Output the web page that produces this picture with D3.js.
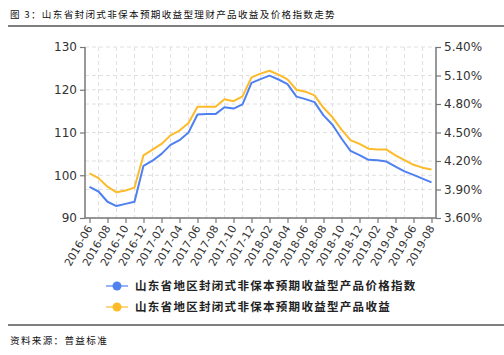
<!DOCTYPE html>
<html><head><meta charset="utf-8">
<script src="https://cdn.jsdelivr.net/npm/d3@7/dist/d3.min.js"></script>
<style>
body{margin:0;background:#fff;}
svg{display:block;}
</style></head>
<body><svg id="c" width="504" height="355"></svg>
<script>
const months = [
"2016-06","2016-07","2016-08","2016-09","2016-10","2016-11","2016-12",
"2017-01","2017-02","2017-03","2017-04","2017-05","2017-06","2017-07","2017-08","2017-09","2017-10","2017-11","2017-12",
"2018-01","2018-02","2018-03","2018-04","2018-05","2018-06","2018-07","2018-08","2018-09","2018-10","2018-11","2018-12",
"2019-01","2019-02","2019-03","2019-04","2019-05","2019-06","2019-07","2019-08"];
const priceIndex = [97.3,96.2,93.8,92.8,93.3,93.8,102.2,103.4,105.0,107.1,108.2,110.0,114.2,114.3,114.3,115.9,115.6,116.6,121.6,
122.5,123.3,122.4,121.3,118.4,117.8,117.1,114.0,111.8,108.6,105.7,104.7,103.6,103.5,103.2,102.0,100.9,100.1,99.2,98.35];
const yieldPct = [4.07,4.02,3.93,3.87,3.89,3.92,4.26,4.32,4.38,4.47,4.52,4.60,4.77,4.77,4.77,4.85,4.83,4.88,5.08,
5.12,5.15,5.11,5.06,4.95,4.93,4.89,4.76,4.66,4.53,4.42,4.38,4.33,4.32,4.32,4.26,4.21,4.16,4.13,4.11];
const leftTicks = [90,100,110,120,130];
const rightTicks = [3.6,3.9,4.2,4.5,4.8,5.1,5.4];
const seriesNames = ["山东省地区封闭式非保本预期收益型产品价格指数","山东省地区封闭式非保本预期收益型产品收益"];
const title = "图 3：山东省封闭式非保本预期收益型理财产品收益及价格指数走势";
const source = "资料来源：普益标准";

const C_BLUE = "#4f80f0", C_ORANGE = "#fdbb2a";
const L = 85, R = 436, T = 47, B = 218;
const svg = d3.select("#c");
const cjk = "'Noto Sans CJK SC', sans-serif";
const latin = "'DejaVu Sans', 'Noto Sans', sans-serif";

const x = d3.scalePoint().domain(months).range([L, R]).padding(0.5);
const yL = d3.scaleLinear().domain([90,130]).range([B, T]);
const yR = d3.scaleLinear().domain([3.6,5.4]).range([B, T]);

// title
svg.append("text").attr("x",10).attr("y",18).attr("font-family",cjk).attr("font-size",9.6)
  .attr("letter-spacing",1.3).attr("fill","#111").text(title);
svg.append("line").attr("x1",8).attr("x2",504).attr("y1",26).attr("y2",26).attr("stroke","#000").attr("stroke-width",1.2);

// grid
const g = svg.append("g");
const hset = new Set();
leftTicks.forEach(v=>hset.add(Math.round(yL(v)*10)/10));
rightTicks.forEach(v=>hset.add(Math.round(yR(v)*10)/10));
[...hset].forEach(yy=>{
  g.append("line").attr("x1",L).attr("x2",R).attr("y1",yy).attr("y2",yy)
   .attr("stroke","#e0e0e0").attr("stroke-dasharray","4,3").attr("stroke-width",1);
});
months.forEach((m,i)=>{
  if(i%2===1){
    g.append("line").attr("x1",x(m)).attr("x2",x(m)).attr("y1",T).attr("y2",B)
     .attr("stroke","#e0e0e0").attr("stroke-dasharray","4,3").attr("stroke-width",1);
  }
});

// axes
const axL = d3.axisLeft(yL).tickValues(leftTicks).tickSize(5).tickPadding(3).tickFormat(d3.format("d"));
const axR = d3.axisRight(yR).tickValues(rightTicks).tickSize(5).tickPadding(3).tickFormat(d=>d.toFixed(2)+"%");
const axB = d3.axisBottom(x).tickValues(months.filter((m,i)=>i%2===0)).tickSize(5).tickSizeOuter(0);
function styleAxis(sel){
  sel.select(".domain").attr("stroke","#777").attr("stroke-width",1.5);
  sel.selectAll(".tick line").attr("stroke","#777").attr("stroke-width",1.2);
  sel.selectAll("text").attr("fill","#333").attr("font-family",latin).attr("font-size",12);
}
const gl = svg.append("g").attr("transform",`translate(${L},0)`).call(axL); styleAxis(gl);
gl.select(".domain").attr("d",`M0,${T}V${B}`);
const gr = svg.append("g").attr("transform",`translate(${R},0)`).call(axR); styleAxis(gr);
gr.select(".domain").attr("d",`M0,${T}V${B}`);
const gb = svg.append("g").attr("transform",`translate(0,${B})`).call(axB); styleAxis(gb);
gb.select(".domain").attr("d",`M${L},0H${R}`);
gb.selectAll("text").attr("font-size",10.8).attr("text-anchor","end")
  .attr("dx",0).attr("dy",0).attr("y",0)
  .attr("transform","translate(3,10) rotate(-60)");

// lines
const lineL = d3.line().x((d,i)=>x(months[i])).y(d=>yL(d));
const lineR = d3.line().x((d,i)=>x(months[i])).y(d=>yR(d));
svg.append("path").datum(yieldPct).attr("d",lineR).attr("fill","none").attr("stroke",C_ORANGE).attr("stroke-width",2).attr("stroke-linejoin","round");
svg.append("path").datum(priceIndex).attr("d",lineL).attr("fill","none").attr("stroke",C_BLUE).attr("stroke-width",2).attr("stroke-linejoin","round");

// legend
const legendY = [286, 307];
[C_BLUE, C_ORANGE].forEach((c,i)=>{
  const lg = svg.append("g");
  lg.append("line").attr("x1",106).attr("x2",128).attr("y1",legendY[i]).attr("y2",legendY[i]).attr("stroke",c).attr("stroke-opacity",0.6).attr("stroke-width",2);
  lg.append("circle").attr("cx",117).attr("cy",legendY[i]).attr("r",4.5).attr("fill",c);
  lg.append("text").attr("x",135).attr("y",legendY[i]+4).attr("font-family",cjk).attr("font-weight","bold")
    .attr("font-size",11.5).attr("letter-spacing",1.3).attr("fill","#222").text(seriesNames[i]);
});

svg.append("line").attr("x1",8).attr("x2",504).attr("y1",325).attr("y2",325).attr("stroke","#000").attr("stroke-width",1.2);
svg.append("text").attr("x",10).attr("y",344).attr("font-family",cjk).attr("font-size",9.6)
  .attr("letter-spacing",1.3).attr("fill","#111").text(source);
</script></body></html>
